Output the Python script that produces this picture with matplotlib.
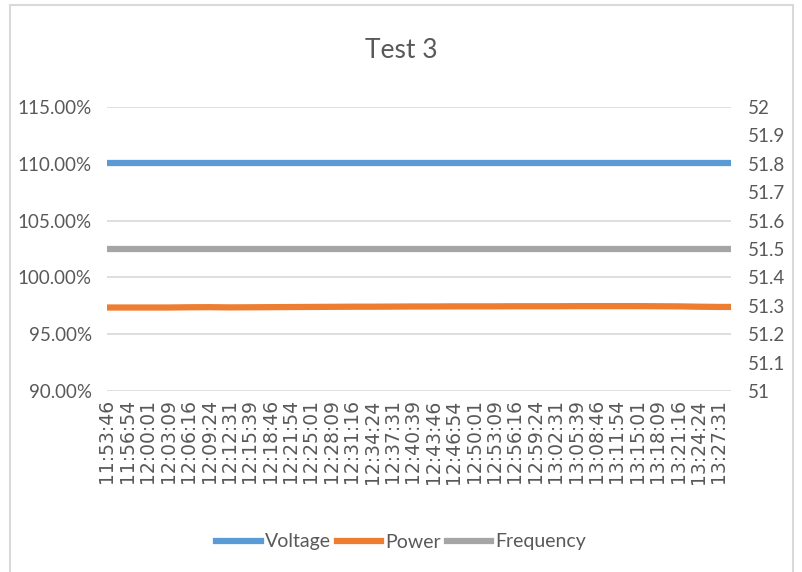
#!/usr/bin/env python3
import matplotlib
matplotlib.use("Agg")
import matplotlib.pyplot as plt
from matplotlib.patches import Rectangle
from matplotlib.ticker import FuncFormatter, MultipleLocator

tick_labels = [
    "11:53:46", "11:56:54", "12:00:01", "12:03:09", "12:06:16", "12:09:24",
    "12:12:31", "12:15:39", "12:18:46", "12:21:54", "12:25:01", "12:28:09",
    "12:31:16", "12:34:24", "12:37:31", "12:40:39", "12:43:46", "12:46:54",
    "12:50:01", "12:53:09", "12:56:16", "12:59:24", "13:02:31", "13:05:39",
    "13:08:46", "13:11:54", "13:15:01", "13:18:09", "13:21:16", "13:24:24",
    "13:27:31",
]
# sample times (the last one is past the last label)
times = tick_labels + ["13:29:23"]

voltage = [110.1, 110.1, 110.1, 110.1, 110.1, 110.1, 110.1, 110.1,
           110.1, 110.1, 110.1, 110.1, 110.1, 110.1, 110.1, 110.1,
           110.1, 110.1, 110.1, 110.1, 110.1, 110.1, 110.1, 110.1,
           110.1, 110.1, 110.1, 110.1, 110.1, 110.1, 110.1, 110.1]
power = [97.35, 97.35, 97.35, 97.35, 97.37, 97.38, 97.36, 97.37,
         97.38, 97.39, 97.4, 97.41, 97.42, 97.42, 97.43, 97.44,
         97.44, 97.45, 97.45, 97.45, 97.46, 97.46, 97.46, 97.47,
         97.47, 97.47, 97.47, 97.46, 97.45, 97.42, 97.4, 97.4]
frequency = [51.5] * 32


def to_sec(t):
    h, m, s = t.split(":")
    return int(h) * 3600 + int(m) * 60 + int(s)


x = [to_sec(t) for t in times]
tick_pos = [to_sec(t) for t in tick_labels]

txt = "#595959"
plt.rcParams["font.family"] = ["Lato", "DejaVu Sans"]

fig = plt.figure(figsize=(8.02, 5.72), dpi=100)
fig.patches.append(Rectangle((10 / 802, -0.1), 783 / 802, 1.1 - 5 / 572,
                             transform=fig.transFigure, fill=False,
                             edgecolor="#D9D9D9", linewidth=1.5))
ax = fig.add_axes([107 / 802, 1 - 391 / 572, 624 / 802, 284 / 572])
ax2 = ax.twinx()

lv, = ax.plot(x, voltage, color="#5B9BD5", lw=4.5, label="Voltage")
lp, = ax.plot(x, power, color="#ED7D31", lw=4.5, label="Power")
lf, = ax2.plot(x, frequency, color="#A5A5A5", lw=4.5, label="Frequency")

ax.set_xlim(x[0], x[-1])
ax.set_ylim(90, 115)
ax.yaxis.set_major_locator(MultipleLocator(5))
ax.yaxis.set_major_formatter(FuncFormatter(lambda v, p: f"{v:.2f}%"))
ax2.set_ylim(51, 52)
ax2.set_yticks([51 + i / 10 for i in range(11)])
ax2.yaxis.set_major_formatter(FuncFormatter(lambda v, p: f"{v:g}"))

ax.set_xticks(tick_pos)
ax.set_xticklabels(tick_labels, rotation=90, family="DejaVu Sans",
                   fontsize=13.5, color=txt)
ax.grid(axis="y", color="#D9D9D9", lw=1.2)
ax.set_axisbelow(True)

for a in (ax, ax2):
    for s in a.spines.values():
        s.set_visible(False)
    a.tick_params(length=0, colors=txt, labelsize=13.5)
ax.tick_params(axis="y", pad=11)
ax2.tick_params(axis="y", pad=12)
ax.tick_params(axis="x", pad=6)

fig.text(0.5, 1 - 50 / 572, "Test 3", ha="center", va="center",
         fontsize=19, color=txt)
fig.legend(handles=[lv, lp, lf], loc="center", ncol=3,
           bbox_to_anchor=(0.5, 1 - 542 / 572), frameon=False,
           fontsize=14, labelcolor=txt, handlelength=2.3,
           handletextpad=0.2, columnspacing=0.3)

fig.savefig("out.png", dpi=100)
